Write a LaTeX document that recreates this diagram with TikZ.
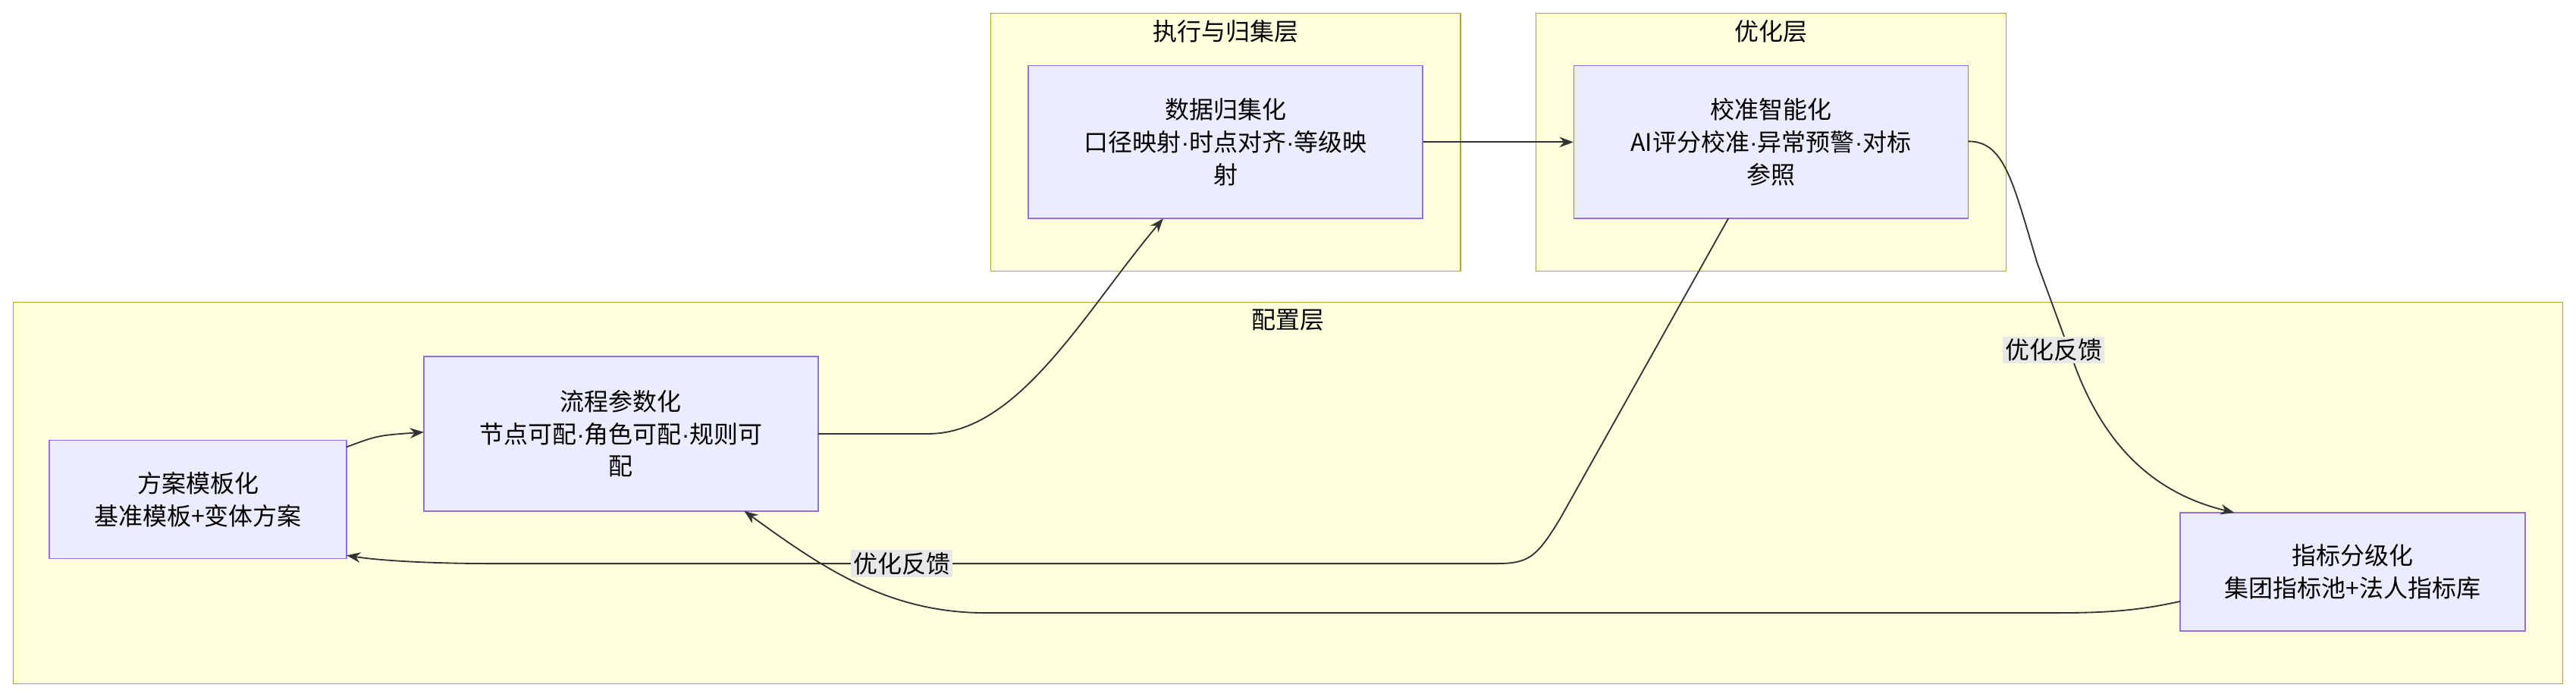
\documentclass[tikz,border=0pt]{standalone}
\usepackage{fontspec}
\setmainfont{Noto Sans CJK SC}
\newfontfamily\latf{Liberation Sans}
\newcommand{\md}{{\latf ·}}
\usetikzlibrary{arrows.meta}
\definecolor{nf}{HTML}{ECECFF}\definecolor{nb}{HTML}{9370DB}
\definecolor{cf}{HTML}{FFFFDE}\definecolor{cb}{HTML}{AAAA33}
\definecolor{lb}{HTML}{E8E8E8}\definecolor{ln}{HTML}{333333}
\begin{document}
\begin{tikzpicture}[x=0.05cm,y=-0.05cm,
 font=\fontsize{21pt}{28pt}\selectfont,
 clu/.style={draw=cb,fill=cf,line width=1pt},
 nd/.style={draw=nb,fill=nf,line width=1pt,align=center},
 ar/.style={draw=ln,line width=1.2pt,-{Stealth[length=12pt,width=9pt]}},
 lab/.style={fill=lb,inner sep=2pt}]
\useasboundingbox (0,0) rectangle (1568,424);
\fill[white] (0,0) rectangle (1568,424);
\draw[clu] (603,8) rectangle (889,165); \node (t1) at (746,19) {执行与归集层};
\draw[clu] (935,8) rectangle (1221,165); \node (t2) at (1078,19) {优化层};
\draw[clu] (8,184) rectangle (1560,416); \node (t3) at (784,195) {配置层};
\node[nd,minimum width=240*0.05cm,minimum height=93*0.05cm] (d) at (746,86.5) {数据归集化\\口径映射\md 时点对齐\md 等级映\\射};
\node[nd,minimum width=240*0.05cm,minimum height=93*0.05cm] (c) at (1078,86.5) {校准智能化\\AI评分校准\md 异常预警\md 对标\\参照};
\node[nd,minimum width=240*0.05cm,minimum height=94*0.05cm] (p) at (378,264) {流程参数化\\节点可配\md 角色可配\md 规则可\\配};
\node[nd,minimum width=181*0.05cm,minimum height=72*0.05cm] (f) at (120.5,304) {方案模板化\\基准模板+变体方案};
\node[nd,minimum width=210*0.05cm,minimum height=72*0.05cm] (z) at (1432,348) {指标分级化\\集团指标池+法人指标库};
\draw[ar] (211,272) .. controls (230,265) .. (258,263);
\draw[ar] (498,264) -- (565,264) .. controls (620,264) and (660,190) .. (708,133);
\draw[ar] (d.east) -- (c.east -| c.west);
\draw[ar] (1198,86) .. controls (1220,86) and (1225,110) .. (1240,160) -- (1262,220) .. controls (1280,270) and (1310,300) .. (1360,312);
\node[lab] (l1) at (1250,213) {优化反馈};
\draw[ar] (1052,133) -- (950,315) .. controls (935,340) and (930,343) .. (910,343) -- (300,343) .. controls (260,343) and (230,341) .. (211,338);
\node[lab] (l2) at (549,343) {优化反馈};
\draw[ar] (1327,366) .. controls (1300,372) and (1280,373) .. (1250,373) -- (600,373) .. controls (540,373) and (500,345) .. (453,311);
\end{tikzpicture}
\end{document}
